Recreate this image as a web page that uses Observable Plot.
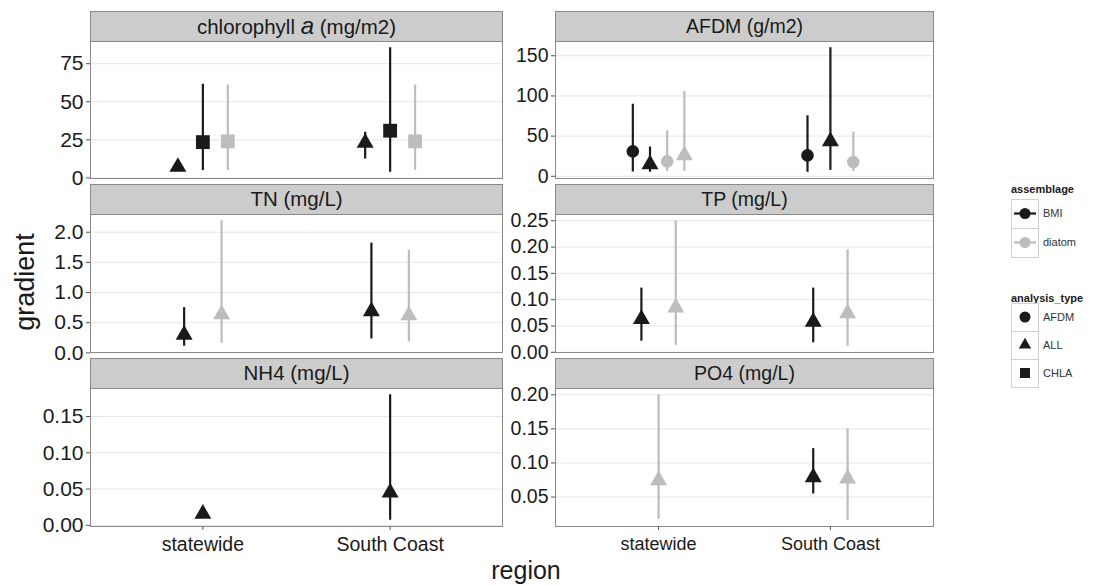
<!DOCTYPE html>
<html>
<head>
<meta charset="utf-8">
<script src="https://cdn.jsdelivr.net/npm/d3@7"></script>
<script src="https://cdn.jsdelivr.net/npm/@observablehq/plot@0.6"></script>
<style>
  body { margin: 0; background: #fff; font-family: "Liberation Sans", Arial, sans-serif; }
  #chart { position: relative; width: 1097px; height: 585px; overflow: hidden; background: #fff; }
  .strip { position: absolute; box-sizing: border-box; background: #cccccc; border: 1px solid #8a8a8a;
           text-align: center; color: #1a1a1a; line-height: 28px; white-space: nowrap; }
  .panel { position: absolute; }
  .axtitle { position: absolute; color: #1a1a1a; white-space: nowrap; }
</style>
</head>
<body>
<div id="chart"></div>
<script>
// ---------------- data ----------------
const panelNames  = ["chla", "AFDM", "TN", "TP", "NH4", "PO4"];
const panelTitles = ["chlorophyll <i style=\"font-size:24px\">a</i> (mg/m2)", "AFDM (g/m2)", "TN (mg/L)", "TP (mg/L)", "NH4 (mg/L)", "PO4 (mg/L)"];
const panelTicks  = [[0, 25, 50, 75], [0, 50, 100, 150], [0, 0.5, 1, 1.5, 2],
                     [0, 0.05, 0.1, 0.15, 0.2, 0.25], [0, 0.05, 0.1, 0.15], [0.05, 0.1, 0.15, 0.2]];
const panelTickFormats = ["d", "d", ".1f", ".2f", ".2f", ".2f"];
const regions = ["statewide", "South Coast"];
const assemblages = ["BMI", "diatom"];
const analysisTypes = ["AFDM", "ALL", "CHLA"];

const indicator = ["chla","chla","chla","chla","chla","chla",
  "AFDM","AFDM","AFDM","AFDM","AFDM","AFDM","AFDM",
  "TN","TN","TN","TN",
  "TP","TP","TP","TP",
  "NH4","NH4",
  "PO4","PO4","PO4"];
const region = ["statewide","statewide","statewide","South Coast","South Coast","South Coast",
  "statewide","statewide","statewide","statewide","South Coast","South Coast","South Coast",
  "statewide","statewide","South Coast","South Coast",
  "statewide","statewide","South Coast","South Coast",
  "statewide","South Coast",
  "statewide","South Coast","South Coast"];
const assemblage = ["BMI","BMI","diatom","BMI","BMI","diatom",
  "BMI","BMI","diatom","diatom","BMI","BMI","diatom",
  "BMI","diatom","BMI","diatom",
  "BMI","diatom","BMI","diatom",
  "BMI","BMI",
  "diatom","BMI","diatom"];
const analysisType = ["ALL","CHLA","CHLA","ALL","CHLA","CHLA",
  "AFDM","ALL","AFDM","ALL","AFDM","ALL","AFDM",
  "ALL","ALL","ALL","ALL",
  "ALL","ALL","ALL","ALL",
  "ALL","ALL",
  "ALL","ALL","ALL"];
const gradient = [7.2, 23.5, 24, 23, 31, 24,
  31, 14.9, 18.6, 26, 26, 43.4, 17.7,
  0.30, 0.64, 0.69, 0.62,
  0.063, 0.085, 0.058, 0.074,
  0.0157, 0.045,
  0.0745, 0.079, 0.077];
const lower = [4.5, 4.8, 4.8, 12.4, 3.7, 5,
  5.3, 5, 6, 6, 5, 7.4, 6,
  0.11, 0.16, 0.23, 0.18,
  0.021, 0.013, 0.018, 0.0115,
  0.012, 0.007,
  0.017, 0.0545, 0.016];
const upper = [9, 61.5, 61, 30, 85.5, 61,
  89.7, 36.4, 56.7, 105.5, 75.3, 160, 55,
  0.75, 2.19, 1.82, 1.70,
  0.122, 0.25, 0.122, 0.195,
  0.019, 0.18,
  0.20, 0.121, 0.15];

// ---------------- build table with dodge ----------------
const rows = indicator.map((p, i) => ({
  indicator: p, region: region[i], assemblage: assemblage[i], analysisType: analysisType[i],
  gradient: gradient[i], lower: lower[i], upper: upper[i]
}));
const dodgeWidth = 0.4;
const groups = d3.group(rows, d => d.indicator, d => d.region);
for (const [, byRegion] of groups) {
  for (const [reg, g] of byRegion) {
    const n = g.length;
    g.forEach((d, k) => { d.xpos = regions.indexOf(reg) + 1 + (k - (n - 1) / 2) * dodgeWidth / n; });
  }
}

// ---------------- layout ----------------
const cols = [{x0: 90, x1: 502, ml: 88, fs: 21, xfs: 19.5, sfs: 20.5},
              {x0: 555, x1: 933, ml: 58, fs: 19.5, xfs: 18, sfs: 19.5}];
const rowsL = [{s: 11, t: 41, b: 178}, {s: 184, t: 214, b: 352}, {s: 358, t: 388, b: 526}];
const colorRange = ["#1a1a1a", "#bdbdbd"];
const symbolOf = {AFDM: "circle", ALL: "triangle", CHLA: "square"};
const rOf = {AFDM: 6.3, ALL: 6.3, CHLA: 7.8};

const chart = document.getElementById("chart");

panelNames.forEach((name, i) => {
  const c = cols[i % 2], r = rowsL[Math.floor(i / 2)];
  const bottom = Math.floor(i / 2) === 2;
  const data = rows.filter(d => d.indicator === name);
  const lo = d3.min(data, d => d.lower), hi = d3.max(data, d => d.upper), pad = (hi - lo) * 0.05;
  const MT = 12, MB = bottom ? 40 : 4, MR = 2;
  const pw = c.x1 - c.x0, ph = r.b - r.t;
  const fmt = d3.format(panelTickFormats[i]);

  const marks = [
    Plot.gridY(panelTicks[i], {stroke: "#e6e6e6", strokeOpacity: 1, strokeWidth: 1}),
    Plot.frame({stroke: "#8a8a8a"}),
    Plot.axisY(panelTicks[i], {tickFormat: fmt, tickSize: 4, tickPadding: 3, fontSize: c.fs, label: null, stroke: "#555", fill: "#1a1a1a"}),
  ];
  if (bottom) marks.push(Plot.axisX([1, 2], {tickFormat: v => regions[v - 1], tickSize: 4, tickPadding: 7, fontSize: c.xfs, label: null, stroke: "#555", fill: "#1a1a1a"}));
  marks.push(Plot.ruleX(data, {x: "xpos", y1: "lower", y2: "upper", stroke: "assemblage", strokeWidth: 2.2}));
  for (const t of analysisTypes) {
    const sub = data.filter(d => d.analysisType === t);
    if (sub.length) marks.push(Plot.dot(sub, {x: "xpos", y: "gradient", fill: "assemblage", symbol: symbolOf[t], r: rOf[t], stroke: "none"}));
  }

  const svg = Plot.plot({
    width: c.ml + pw + MR, height: MT + ph + MB,
    marginLeft: c.ml, marginRight: MR, marginTop: MT, marginBottom: MB,
    style: {fontFamily: "'Liberation Sans', Arial, sans-serif", background: "transparent", overflow: "visible", color: "#1a1a1a"},
    x: {domain: [0.4, 2.6], axis: null, label: null},
    y: {domain: [lo - pad, hi + pad], axis: null, label: null},
    color: {domain: assemblages, range: colorRange},
    marks
  });
  const holder = document.createElement("div");
  holder.className = "panel";
  holder.style.left = (c.x0 - c.ml) + "px";
  holder.style.top = (r.t - MT) + "px";
  holder.appendChild(svg);
  chart.appendChild(holder);

  const strip = document.createElement("div");
  strip.className = "strip";
  strip.style.left = c.x0 + "px";
  strip.style.top = r.s + "px";
  strip.style.width = (pw + 1) + "px";
  strip.style.height = (r.t - r.s + 1) + "px";
  strip.style.fontSize = c.sfs + "px";
  strip.innerHTML = panelTitles[i];
  chart.appendChild(strip);
});

// axis titles
const yt = document.createElement("div");
yt.className = "axtitle";
yt.textContent = "gradient";
yt.style.fontSize = "27px";
yt.style.left = "25px"; yt.style.top = "282px";
yt.style.transform = "translate(-50%,-50%) rotate(-90deg)";
chart.appendChild(yt);

const xt = document.createElement("div");
xt.className = "axtitle";
xt.textContent = "region";
xt.style.fontSize = "25px";
xt.style.left = "526px"; xt.style.top = "570px";
xt.style.transform = "translate(-50%,-50%)";
chart.appendChild(xt);

// legend
const leg = d3.select(chart).append("svg")
  .attr("width", 1097).attr("height", 585)
  .style("position", "absolute").style("left", 0).style("top", 0).style("pointer-events", "none")
  .style("font-family", "'Liberation Sans', Arial, sans-serif");
leg.append("text").attr("x", 1011).attr("y", 193).attr("font-size", 11).attr("font-weight", "bold").attr("fill", "#1a1a1a").text("assemblage");
assemblages.forEach((a, k) => {
  const y0 = 199 + k * 29, cy = y0 + 14.5;
  leg.append("rect").attr("x", 1011.5).attr("y", y0 + 0.5).attr("width", 27).attr("height", 29).attr("fill", "#fff").attr("stroke", "#d0d0d0");
  leg.append("line").attr("x1", 1014).attr("x2", 1036).attr("y1", cy).attr("y2", cy).attr("stroke", colorRange[k]).attr("stroke-width", 2.2);
  leg.append("circle").attr("cx", 1025).attr("cy", cy).attr("r", 5.5).attr("fill", colorRange[k]);
  leg.append("text").attr("x", 1043).attr("y", cy).attr("dy", "0.35em").attr("font-size", 11).attr("fill", "#333").text(a);
});
leg.append("text").attr("x", 1011).attr("y", 302).attr("font-size", 11).attr("font-weight", "bold").attr("fill", "#1a1a1a").text("analysis_type");
const legSym = {AFDM: d3.symbol(d3.symbolCircle, Math.PI * 5.5 * 5.5), ALL: d3.symbol(d3.symbolTriangle, Math.PI * 4.6 * 4.6), CHLA: d3.symbol(d3.symbolSquare, 100)};
analysisTypes.forEach((t, k) => {
  const y0 = 303 + k * 28, cy = y0 + 14;
  leg.append("rect").attr("x", 1011.5).attr("y", y0 + 0.5).attr("width", 27).attr("height", 28).attr("fill", "#fff").attr("stroke", "#d0d0d0");
  leg.append("path").attr("d", legSym[t]()).attr("transform", `translate(1025,${cy})`).attr("fill", "#1a1a1a");
  leg.append("text").attr("x", 1043).attr("y", cy).attr("dy", "0.35em").attr("font-size", 11).attr("fill", "#333").text(t);
});
</script>
</body>
</html>
